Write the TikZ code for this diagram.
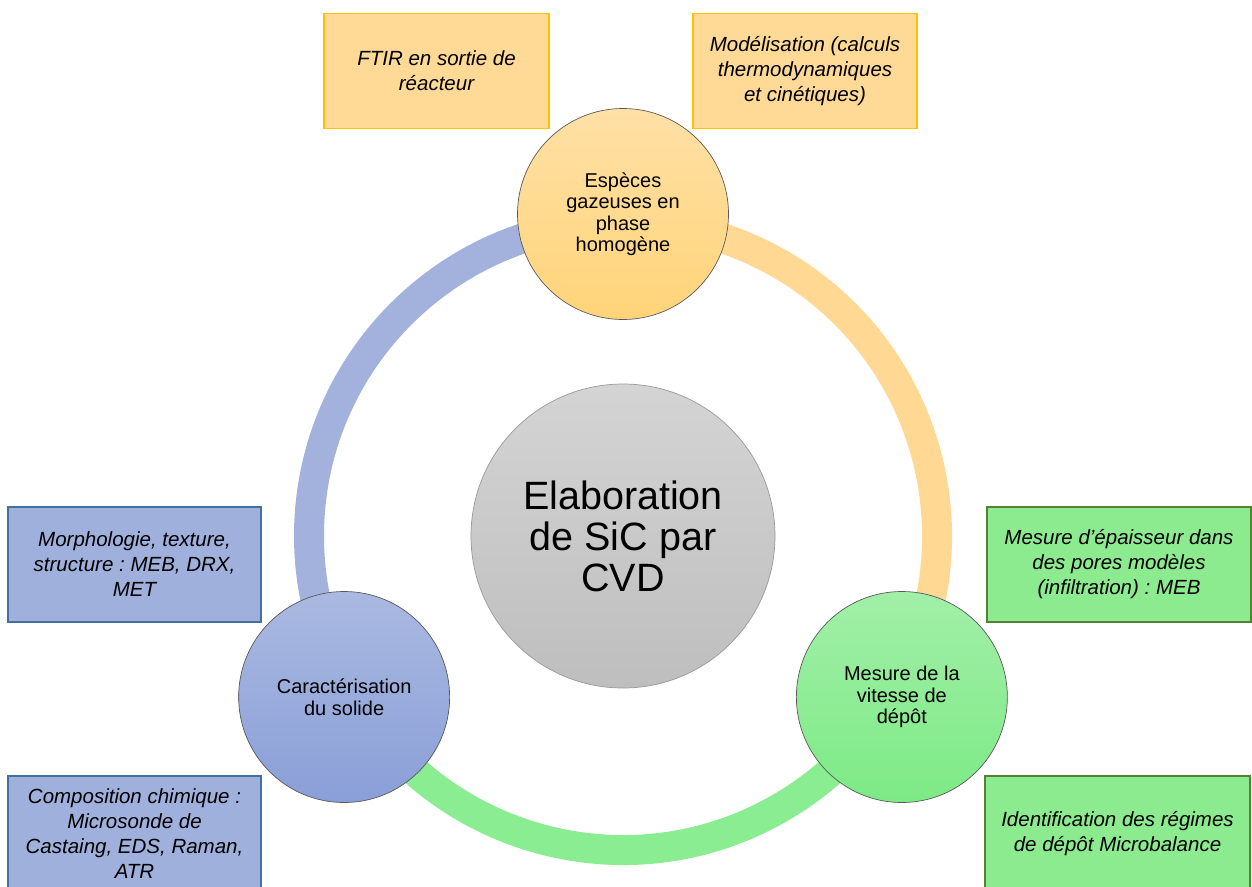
\documentclass[tikz,border=0pt]{standalone}
\usepackage{fontspec}
\setmainfont{Liberation Sans}
\usetikzlibrary{calc}
\frenchspacing
\definecolor{obfill}{HTML}{FFD996}
\definecolor{obdraw}{HTML}{FFC000}
\definecolor{bbfill}{HTML}{9FB0DC}
\definecolor{bbdraw}{HTML}{41719C}
\definecolor{gbfill}{HTML}{8DEB8F}
\definecolor{gbdraw}{HTML}{548235}
\definecolor{ringblue}{HTML}{A2B2DD}
\definecolor{ringorange}{HTML}{FFD993}
\definecolor{ringgreen}{HTML}{8AED92}
\definecolor{octop}{HTML}{FFE0A6}
\definecolor{ocbot}{HTML}{FFD479}
\definecolor{bctop}{HTML}{AAB9E1}
\definecolor{bcbot}{HTML}{8A9FD8}
\definecolor{gctop}{HTML}{A2EFA8}
\definecolor{gcbot}{HTML}{7DEA85}
\definecolor{cctop}{HTML}{D4D4D4}
\definecolor{ccbot}{HTML}{BEBEBE}
\begin{document}
\begin{tikzpicture}[x=1pt,y=1pt,
  infobox/.style={rectangle, line width=1.3pt, minimum width=#1, minimum height=115pt,
     align=center, inner sep=0pt, font=\fontsize{20.5}{25}\selectfont\itshape},
  obox/.style={infobox=225pt, fill=obfill, draw=obdraw},
  bbox/.style={infobox=253pt, fill=bbfill, draw=bbdraw},
  gbox/.style={infobox=264pt, fill=gbfill, draw=gbdraw},
  ringarc/.style={line width=30pt},
  phase/.style={circle, minimum size=211pt, inner sep=0pt, draw=black!65, line width=0.7pt,
     align=center, font=\fontsize{20}{21.5}\selectfont},
  hub/.style={circle, minimum size=304pt, inner sep=0pt, draw=black!40, line width=0.7pt,
     top color=cctop, bottom color=ccbot, align=center, font=\fontsize{39.5}{41}\selectfont}
]
\useasboundingbox (0,0) rectangle (1252,-886);
\clip (0,0) rectangle (1252,-886);
\coordinate (rc) at (623,-536);
% ring
\draw[ringarc, ringblue] (rc) ++(90:314) arc[start angle=90, end angle=210, radius=314];
\draw[ringarc, ringorange] (rc) ++(-30:314) arc[start angle=-30, end angle=90, radius=314];
\draw[ringarc, ringgreen] (rc) ++(210:314) arc[start angle=210, end angle=330, radius=314];
% circles
\node[hub] (hubc) at (rc) {Elaboration\\de SiC par\\CVD};
\node[phase, top color=octop, bottom color=ocbot] (gas) at ($(rc)+(90:322)$) {Espèces\\gazeuses en\\phase\\homogène};
\node[phase, top color=bctop, bottom color=bcbot] (sol) at ($(rc)+(210:322)$) {Caractérisation\\du solide};
\node[phase, top color=gctop, bottom color=gcbot] (dep) at ($(rc)+(330:322)$) {Mesure de la\\vitesse de\\dépôt};
% boxes
\node[obox] (ftir) at (436.5,-71) {FTIR en sortie de\\réacteur};
\node[obox, minimum width=224pt] (model) at (805,-71) {Modélisation (calculs\\thermodynamiques\\et cinétiques)};
\node[bbox] (morph) at (134.5,-564.5) {Morphologie, texture,\\structure : MEB, DRX,\\MET};
\node[bbox] (compo) at (134.5,-833.5) {Composition chimique :\\Microsonde de\\Castaing, EDS, Raman,\\ATR};
\node[gbox] (epais) at (1119,-564.5) {Mesure d’épaisseur dans\\des pores modèles\\(infiltration) : MEB};
\node[gbox, minimum width=265pt] (ident) at (1117.5,-833.5) {Identification des régimes\\de dépôt Microbalance};
\end{tikzpicture}
\end{document}
